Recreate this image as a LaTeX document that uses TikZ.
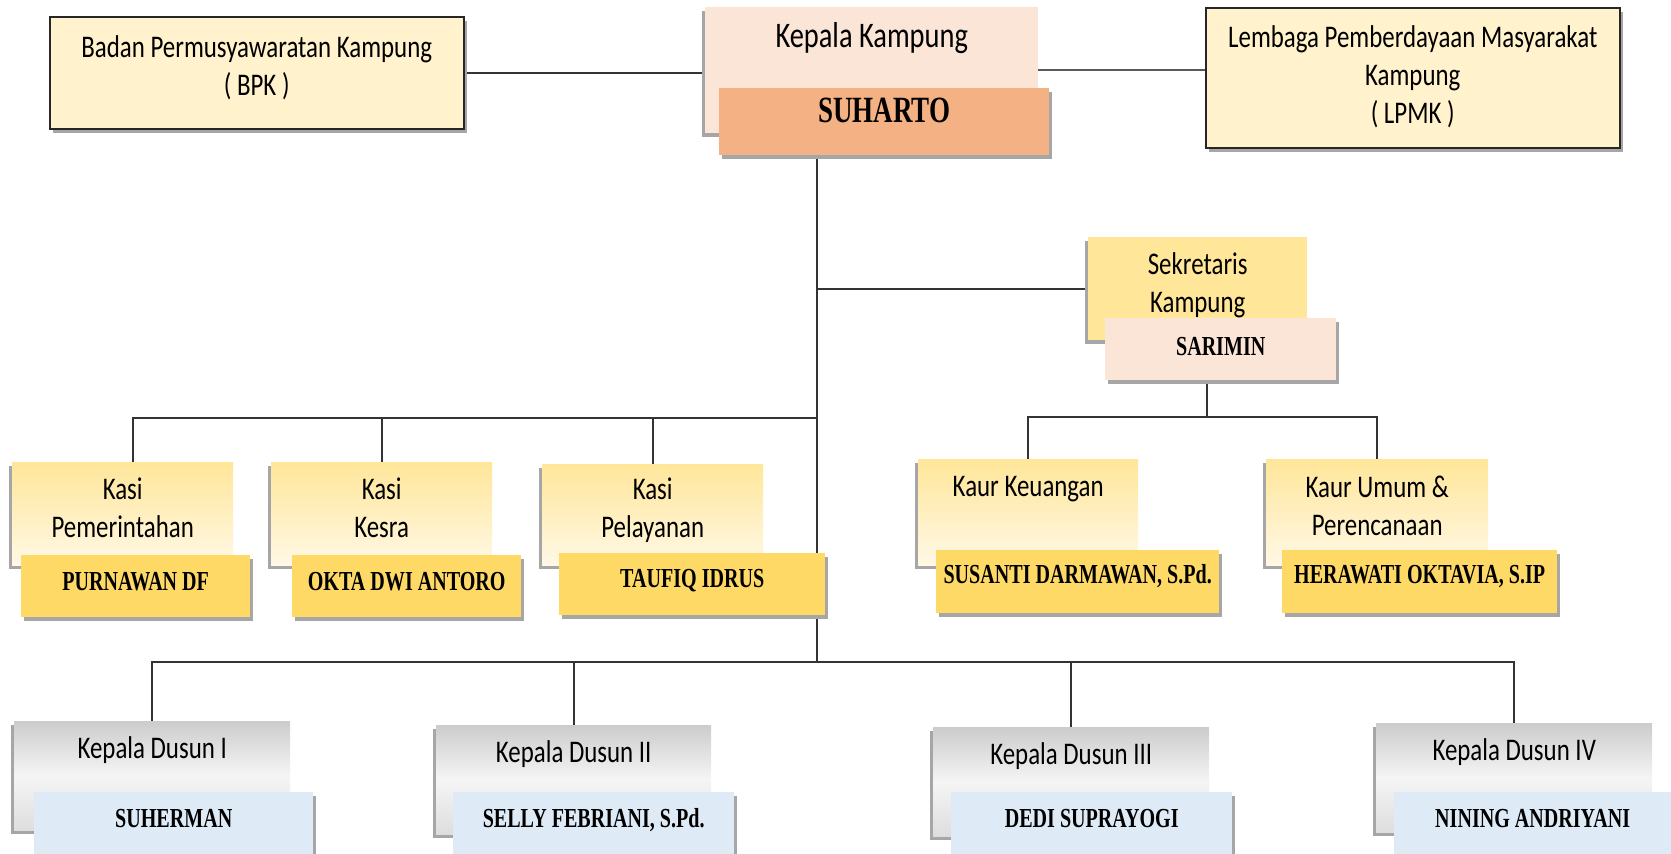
\documentclass[tikz,border=0pt]{standalone}
\usepackage{fontspec}
\setmainfont{Carlito}[FakeStretch=0.79]
\newfontfamily\namefont{Liberation Serif}[FakeStretch=0.73]
\usetikzlibrary{shadows,backgrounds}
\definecolor{creamfill}{HTML}{FFF2CC}
\definecolor{peachfill}{HTML}{FBE5D6}
\definecolor{kadesfill}{HTML}{F4B183}
\definecolor{goldfill}{HTML}{FFE699}
\definecolor{goldlight}{HTML}{FFF8E6}
\definecolor{goldname}{HTML}{FFD966}
\definecolor{bluefill}{HTML}{DEEAF6}

\begin{document}
\begin{tikzpicture}[x=1pt, y=-1pt,
    box/.style={anchor=north west, inner sep=0pt, align=center},
    shadowl/.style={drop shadow={shadow xshift=-3pt, shadow yshift=-4pt, opacity=1, fill=black!35}},
    shadowr/.style={drop shadow={shadow xshift=3pt, shadow yshift=-4pt, opacity=1, fill=black!35}},
    head/.style={box, font=\fontsize{31.5}{38}\selectfont},
    person/.style={box, shadowr, text height=35pt, text depth=27pt,
        font=\namefont\bfseries\fontsize{27.5}{30}\selectfont},
    council/.style={head, fill=creamfill, draw=black!85, line width=1.5pt, shadowr},
    kasi/.style={head, shadowl, top color=goldfill, bottom color=goldlight,
        minimum width=221pt, text height=75pt, text depth=28pt},
    dusun/.style={head, shadowl, top color=black!20, bottom color=black!13, middle color=black!4,
        minimum width=276pt, text height=37pt, text depth=72pt},
    kasiname/.style={person, fill=goldname},
    dusunname/.style={person, fill=bluefill},
    link/.style={line width=1.8pt, black!80}
]
    \useasboundingbox (0,0) rectangle (1671,854);
    \node[council, minimum width=414pt, text height=79pt, text depth=33pt] (bpk) at (49,16) {Badan Permusyawaratan Kampung\\( BPK )};
    \node[head, shadowl, fill=peachfill, minimum width=333pt, text height=40pt, text depth=86pt,
        font=\fontsize{36}{40}\selectfont] (kepala) at (705,7) {Kepala Kampung};
    \node[person, fill=kadesfill, minimum width=330pt, text height=34pt, text depth=33pt,
        font=\namefont\bfseries\fontsize{37}{40}\selectfont] (suharto) at (719,88) {SUHARTO};
    \node[council, minimum width=414pt, text height=116pt, text depth=24pt] (lpmk) at (1205,7) {Lembaga Pemberdayaan Masyarakat\\Kampung\\( LPMK )};
    \node[head, shadowl, fill=goldfill, minimum width=219pt, text height=75pt, text depth=28pt] (sek) at (1088,237) {Sekretaris\\Kampung};
    \node[person, fill=peachfill, minimum width=231pt, text height=37pt, text depth=25pt] (sarimin) at (1105,318) {SARIMIN};
    \node[kasi] (kasi1) at (12,462) {Kasi\\Pemerintahan};
    \node[kasiname, minimum width=229pt] (purnawan) at (21,555) {PURNAWAN DF};
    \node[kasi] (kasi2) at (271,462) {Kasi\\Kesra};
    \node[kasiname, minimum width=229pt] (okta) at (292,555) {OKTA DWI ANTORO};
    \node[kasi, text height=73pt, text depth=28pt] (kasi3) at (542,464) {Kasi\\Pelayanan};
    \node[kasiname, minimum width=266pt, text height=34pt, text depth=28pt] (taufiq) at (559,553) {TAUFIQ IDRUS};
    \node[kasi, minimum width=220pt, text height=37pt, text depth=69pt] (kaur1) at (918,459) {Kaur Keuangan};
    \node[kasiname, minimum width=283pt, text height=33pt, text depth=30pt] (susanti) at (936,550) {SUSANTI DARMAWAN, S.Pd.};
    \node[kasi, minimum width=222pt, text height=76pt, text depth=30pt] (kaur2) at (1266,459) {Kaur Umum \&\\Perencanaan};
    \node[kasiname, minimum width=275pt, text height=33pt, text depth=30pt] (herawati) at (1282,550) {HERAWATI OKTAVIA, S.IP};
    \node[dusun] (dusun1) at (14,721) {Kepala Dusun I};
    \node[dusunname, minimum width=279pt] (suherman) at (34,792) {SUHERMAN};
    \node[dusun, minimum width=275pt] (dusun2) at (436,725) {Kepala Dusun II};
    \node[dusunname, minimum width=281pt] (selly) at (453,792) {SELLY FEBRIANI, S.Pd.};
    \node[dusun] (dusun3) at (933,727) {Kepala Dusun III};
    \node[dusunname, minimum width=281pt] (dedi) at (951,792) {DEDI SUPRAYOGI};
    \node[dusun] (dusun4) at (1376,723) {Kepala Dusun IV};
    \node[dusunname, minimum width=277pt] (nining) at (1394,792) {NINING ANDRIYANI};
    \coordinate (trunk) at (817,662);
    \coordinate (kasibus) at (817,418);
    \coordinate (kaurbus) at (1207,417);
    \begin{pgfonlayer}{background}
    \draw[link] (bpk.east) -- (bpk.east -| kepala.west);
    \draw[link, line width=2.5pt, black!65] (kepala.east) -- (kepala.east -| lpmk.west);
    \draw[link] (suharto.south -| trunk) -- (trunk);
    \draw[link] (sek.west) -- (sek.west -| trunk);
    \draw[link] ([xshift=10pt]kasi1.north) |- (kasibus);
    \draw[link] (kasi2.north) -- (kasi2.north |- kasibus);
    \draw[link] (kasi3.north) -- (kasi3.north |- kasibus);
    \draw[link] (sarimin.south -| kaurbus) -- (kaurbus);
    \draw[link] (kaur1.north) |- (kaurbus) -| (kaur2.north);
    \draw[link] (dusun1.north) |- (trunk) -| (dusun4.north);
    \draw[link] (dusun2.north) -- (dusun2.north |- trunk);
    \draw[link] (dusun3.north) -- (dusun3.north |- trunk);
    \end{pgfonlayer}
\end{tikzpicture}
\end{document}
